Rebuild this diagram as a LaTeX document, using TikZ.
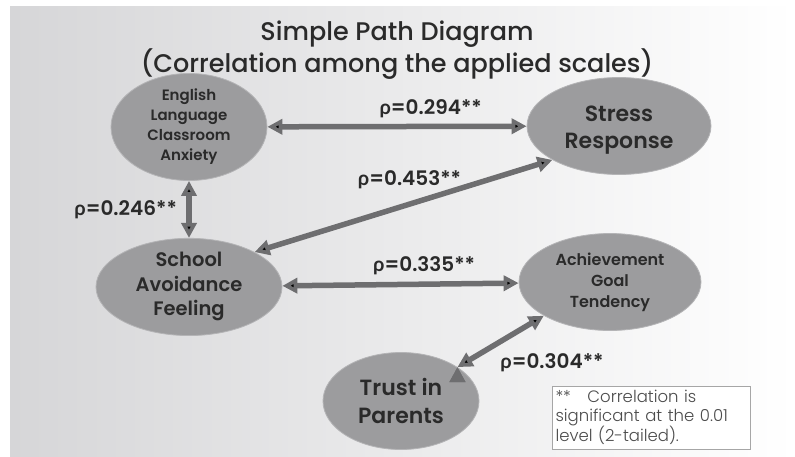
\documentclass[tikz,border=0pt]{standalone}
\usepackage{fontspec}
\setmainfont{Poppins}[UprightFont=* Medium, BoldFont=* SemiBold]
\newfontfamily\notefont{Poppins Light}
\newfontfamily\grkfont{Lato}
\usepackage{tikz}
\usetikzlibrary{shapes.geometric, positioning, arrows.meta}

\definecolor{ellfill}{HTML}{9C9C9E}
\definecolor{elldraw}{HTML}{B4B4B6}
\definecolor{arrowgray}{HTML}{6E6E70}
\definecolor{txtdark}{HTML}{2A2A2A}
\definecolor{bgleft}{HTML}{D6D6D8}

\newcommand{\rh}{{\grkfont\bfseries ρ}}

\tikzset{
  latent/.style = {ellipse, fill=ellfill, draw=elldraw, line width=0.8pt,
                   inner sep=0pt, align=center, text=txtdark},
  corr/.style   = {text=txtdark, font=\bfseries\fontsize{20}{22}\selectfont},
  link/.style   = {<->, draw=arrowgray, line width=5.5pt}
}

\begin{document}
\begin{tikzpicture}[x=1pt, y=-1pt, > = {Triangle[length=15pt, width=15pt]}]
    \useasboundingbox (0,0) rectangle (795,456);
    \fill[white] (0,0) rectangle (795,456);
    \shade[left color=bgleft, right color=white] (10,6) rectangle (795,456);

    \node[text=txtdark, align=center, font=\fontsize{25.5}{32}\selectfont] (title) at (397,50)
      {Simple Path Diagram\\(Correlation among the applied scales)};

    \node[latent, minimum width=156pt, minimum height=98pt,
          font=\bfseries\fontsize{15}{20}\selectfont] (elca) at (189,127)
      {English\\Language\\Classroom\\Anxiety};
    \node[latent, minimum width=184pt, minimum height=97pt,
          font=\bfseries\fontsize{22}{27}\selectfont] (sr) at (619,126)
      {\rule{0pt}{24pt}Stress\\Response};
    \node[latent, minimum width=186pt, minimum height=97pt,
          font=\bfseries\fontsize{19.5}{24.5}\selectfont] (saf) [below=57pt of elca]
      {School\\Avoidance\\Feeling};
    \node[latent, minimum width=182pt, minimum height=97pt,
          font=\bfseries\fontsize{16}{21}\selectfont] (agt) at (610,282)
      {Achievement\\Goal\\Tendency};
    \node[latent, minimum width=156pt, minimum height=97pt,
          font=\bfseries\fontsize{22}{28}\selectfont] (tp) at (401,401)
      {Trust in\\Parents};

    \path[link] (elca) edge node[corr, above=3pt, pos=0.63] {\rh=0.294**} (sr)
    (elca) edge node[corr, left=6pt] {\rh=0.246**} (saf)
    (saf.28) edge node[corr, above=9pt, pos=0.52] {\rh=0.453**} (sr.207)
    (saf) edge node[corr, above=3pt, pos=0.6] {\rh=0.335**} (agt)
    (tp.31) edge node[corr, anchor=north west, pos=0.6, xshift=-15pt, yshift=-11pt] {\rh=0.304**} (agt.207);

    \node[draw=gray!70, fill=white, line width=0.6pt, text width=191pt, minimum height=63pt,
          inner sep=3.5pt, align=left, text=black!70, font=\notefont\fontsize{16.5}{18.5}\selectfont] (note) at (651,417.5)
      {**\quad Correlation is\\significant at the 0.01\\level (2-tailed).};
\end{tikzpicture}
\end{document}
